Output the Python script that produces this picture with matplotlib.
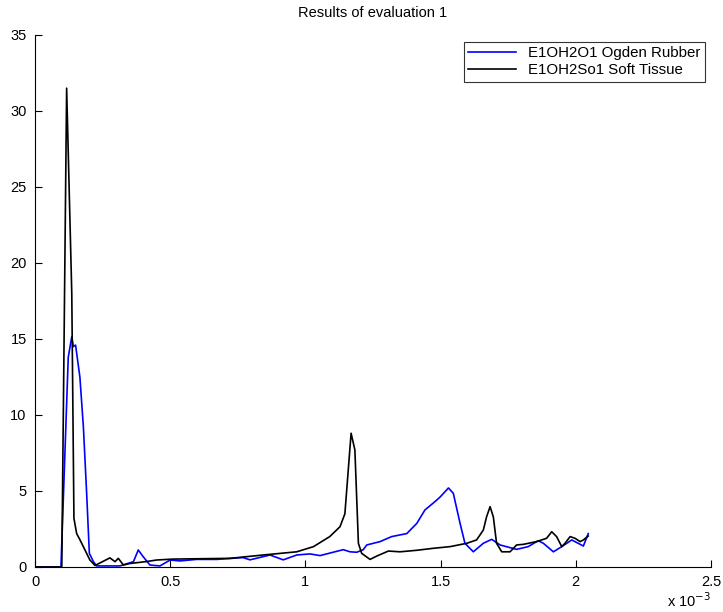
import matplotlib
matplotlib.use("Agg")
import matplotlib.pyplot as plt

plt.rcParams['font.family'] = ['Liberation Sans', 'DejaVu Sans']

# time in units of 1e-3
ogden_x = [0.0, 0.096, 0.123, 0.136, 0.142, 0.150, 0.166, 0.179, 0.191, 0.201, 0.216, 0.228,
           0.314, 0.364, 0.382, 0.400, 0.425, 0.462, 0.500, 0.536, 0.598, 0.672, 0.770, 0.795,
           0.869, 0.918, 0.968, 1.017, 1.054, 1.140, 1.165, 1.190, 1.214, 1.227, 1.276, 1.319,
           1.375, 1.412, 1.442, 1.479, 1.498, 1.529, 1.547, 1.572, 1.590, 1.621, 1.658, 1.689,
           1.720, 1.781, 1.824, 1.861, 1.880, 1.917, 1.948, 1.985, 2.028, 2.046]
ogden_y = [0.0, 0.0, 13.8, 15.15, 14.5, 14.6, 12.5, 9.2, 4.85, 0.9, 0.35, 0.07,
           0.07, 0.35, 1.12, 0.68, 0.13, 0.07, 0.46, 0.4, 0.5, 0.5, 0.62, 0.47,
           0.79, 0.47, 0.79, 0.86, 0.75, 1.14, 1.0, 0.97, 1.14, 1.45, 1.67, 2.0,
           2.2, 2.87, 3.75, 4.3, 4.6, 5.2, 4.85, 2.87, 1.56, 1.0, 1.56, 1.82,
           1.45, 1.16, 1.34, 1.73, 1.56, 1.0, 1.34, 1.78, 1.38, 2.2]

tissue_x = [0.0, 0.099, 0.117, 0.136, 0.144, 0.154, 0.166, 0.203, 0.222, 0.277, 0.296, 0.308,
            0.327, 0.351, 0.413, 0.450, 0.510, 0.721, 0.844, 0.968, 1.030, 1.090, 1.128, 1.146,
            1.169, 1.183, 1.196, 1.208, 1.239, 1.264, 1.307, 1.350, 1.412, 1.473, 1.535, 1.597,
            1.633, 1.658, 1.670, 1.683, 1.695, 1.707, 1.726, 1.757, 1.781, 1.806, 1.855, 1.892,
            1.911, 1.929, 1.948, 1.960, 1.979, 1.997, 2.016, 2.028, 2.046]
tissue_y = [0.0, 0.0, 31.5, 18.0, 3.2, 2.2, 1.8, 0.46, 0.1, 0.6, 0.35, 0.57,
            0.13, 0.23, 0.36, 0.46, 0.52, 0.57, 0.79, 1.0, 1.34, 2.0, 2.65, 3.5,
            8.8, 7.7, 1.56, 0.9, 0.5, 0.72, 1.05, 1.0, 1.1, 1.23, 1.34, 1.56,
            1.78, 2.43, 3.3, 3.97, 3.3, 1.56, 1.0, 1.0, 1.45, 1.49, 1.67, 1.89,
            2.32, 2.0, 1.34, 1.56, 2.0, 1.89, 1.67, 1.78, 2.04]

fig = plt.figure(figsize=(7.23, 6.12), dpi=100)
ax = fig.add_axes([35/723, 45/612, 676/723, 532/612])

ax.plot(ogden_x, ogden_y, color='#0000ff', lw=1.2, label='E1OH2O1 Ogden Rubber')
ax.plot(tissue_x, tissue_y, color='black', lw=1.2, label='E1OH2So1 Soft Tissue')

ax.set_xlim(0, 2.5)
ax.set_ylim(0, 35)
ax.set_xticks([0, 0.5, 1, 1.5, 2, 2.5])
ax.set_xticklabels(['0', '0.5', '1', '1.5', '2', '2.5'])
ax.set_yticks(range(0, 36, 5))
ax.tick_params(direction='in', length=5, width=0.8, labelsize=10.5, pad=6)
ax.spines['top'].set_visible(False)
ax.spines['right'].set_visible(False)

ax.set_title('Results of evaluation 1', fontsize=10.5, pad=13,
             family=['Liberation Sans Narrow', 'Liberation Sans'])
fig.text(711/723, 2/612, r'x 10$^{-3}$', ha='right', va='bottom', fontsize=10.5)

leg = ax.legend(loc='upper right', fontsize=10.8, frameon=True, fancybox=False,
                edgecolor='black', handlelength=3.2, borderpad=0.3, labelspacing=0.2,
                borderaxespad=0, bbox_to_anchor=(0.991, 0.987))
leg.get_frame().set_linewidth(0.8)

fig.savefig('out.png', dpi=100)
